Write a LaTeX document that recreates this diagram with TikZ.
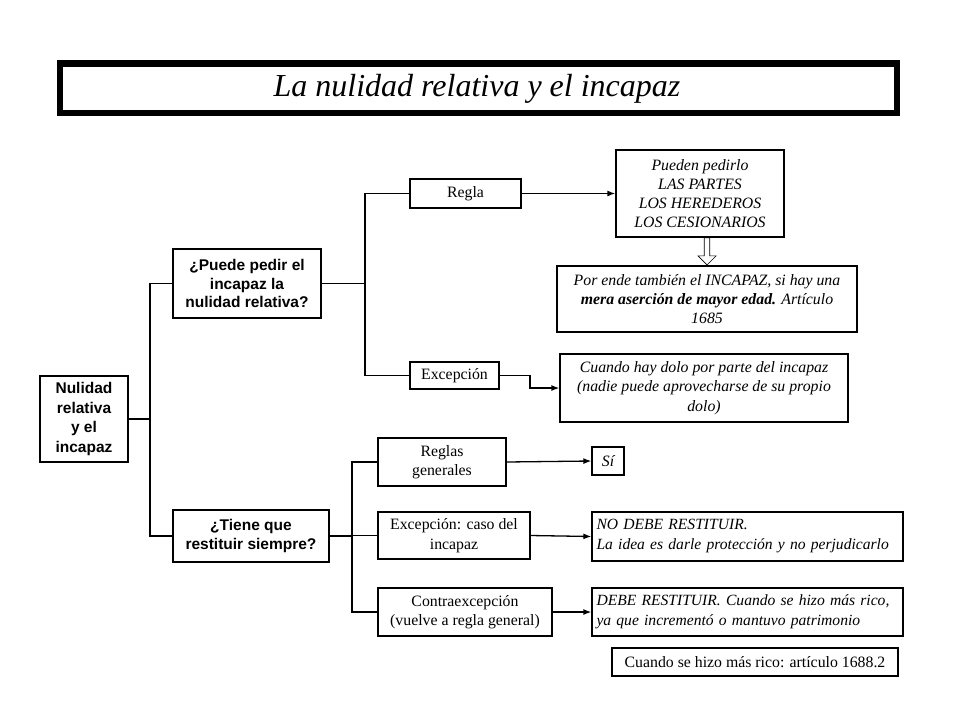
\documentclass[tikz,border=0pt]{standalone}
\usepackage{fontspec}
\setmainfont{Liberation Serif}
\newfontfamily\arialf{Liberation Sans}
\usetikzlibrary{arrows.meta,shapes.arrows}
\begin{document}
\begin{tikzpicture}[x=1pt,y=-1pt,
  box/.style={draw,line width=1.3pt,inner sep=0pt,align=center},
  qbox/.style={box,font=\arialf\bfseries\fontsize{15.5}{18.7}\selectfont},
  sbox/.style={box,font=\fontsize{15.8}{19.5}\selectfont},
  ibox/.style={box,font=\itshape\fontsize{15.8}{19.2}\selectfont},
  lbox/.style={box,font=\itshape\fontsize{15.6}{20}\selectfont,align=left,text width=302},
  conn/.style={line width=1.3pt},
  arr/.style={line width=1.3pt,-{Latex[length=8pt,width=6pt]}}]
\useasboundingbox (0,0) rectangle (960,720);
\draw[line width=6.5pt] (60,63.5) rectangle (897,113);
\node (title) at (477,89) {\itshape\fontsize{32}{32}\selectfont La nulidad relativa y el incapaz};
% nodes
\node[qbox,font=\arialf\bfseries\fontsize{15.5}{19.5}\selectfont,minimum width=88,minimum height=86] (A) at (84,419) {Nulidad\\relativa\\y el\\incapaz};
\node[qbox,minimum width=148,minimum height=69] (B) at (247,283.5) {¿Puede pedir el\\incapaz la\\nulidad relativa?};
\node[qbox,minimum width=156,minimum height=52] (C) at (251,536) {¿Tiene que\\restituir siempre?};
\node[sbox,minimum width=111,minimum height=29] (R) at (465.5,193.5) {Regla};
\node[sbox,minimum width=89,minimum height=27] (E) at (454.5,375.5) {Excepción};
\node[ibox,minimum width=168,minimum height=87] (P) at (700,193.5) {Pueden pedirlo\\LAS PARTES\\LOS HEREDEROS\\LOS CESIONARIOS};
\node[ibox,minimum width=300,minimum height=66] (PE) at (707,299) {Por ende también el INCAPAZ, si hay una\\\textbf{mera aserción de mayor edad.} Artículo\\1685};
\node[ibox,minimum width=288,minimum height=68] (D) at (704,388) {Cuando hay dolo por parte del incapaz\\(nadie puede aprovecharse de su propio\\dolo)};
\node[sbox,minimum width=128,minimum height=48] (RG) at (442,462) {Reglas\\generales};
\node[ibox,minimum width=32,minimum height=28] (SI) at (608,461) {Sí};
\node[lbox,minimum width=311,minimum height=49] (ND) at (747.5,536.5) {NO DEBE RESTITUIR.\\La idea es darle protección y no perjudicarlo};
\node[sbox,minimum width=174,minimum height=48] (CE) at (465,612) {Contraexcepción\\(vuelve a regla general)};
\node[lbox,minimum width=311,minimum height=48] (DB) at (747.5,612) {DEBE RESTITUIR. Cuando se hizo más rico,\\ya que incrementó o mantuvo patrimonio};
\node[sbox,minimum width=286,minimum height=28] (CR) at (755,662) {Cuando se hizo más rico: artículo 1688.2};
\node[sbox,minimum width=152,minimum height=47] (EC) at (454,535.5) {Excepción: caso del\\incapaz};
% connectors
\draw[conn] (A.east) -- (150,419);
\draw[conn] (B.west) -| (150,536) -- (C.west);
\draw[conn] (B.east) -- (365,283.5);
\draw[conn] (R.west) -| (365,375.5) -- (E.west);
\draw[conn] (C.east) -- (352,536);
\draw[conn] (RG.west) -| (352,612) -- (CE.west);
\draw[conn] (352,535.5) -- (EC.west);
\draw[arr] (R.east) -- (P.west);
\draw[arr] (E.east) -- (530,375.5) |- (D.west);
\draw[arr] (RG.east) -- (SI.west);
\draw[arr] (EC.east) -- (ND.west);
\draw[arr] (CE.east) -- (DB.west);
\node[draw,single arrow,shape border rotate=270,minimum width=18pt,single arrow head extend=3pt,single arrow tip angle=90,minimum height=27pt,inner sep=1pt,line width=0.6pt,anchor=tip] (BA) at (PE.north) {};
\end{tikzpicture}
\end{document}
